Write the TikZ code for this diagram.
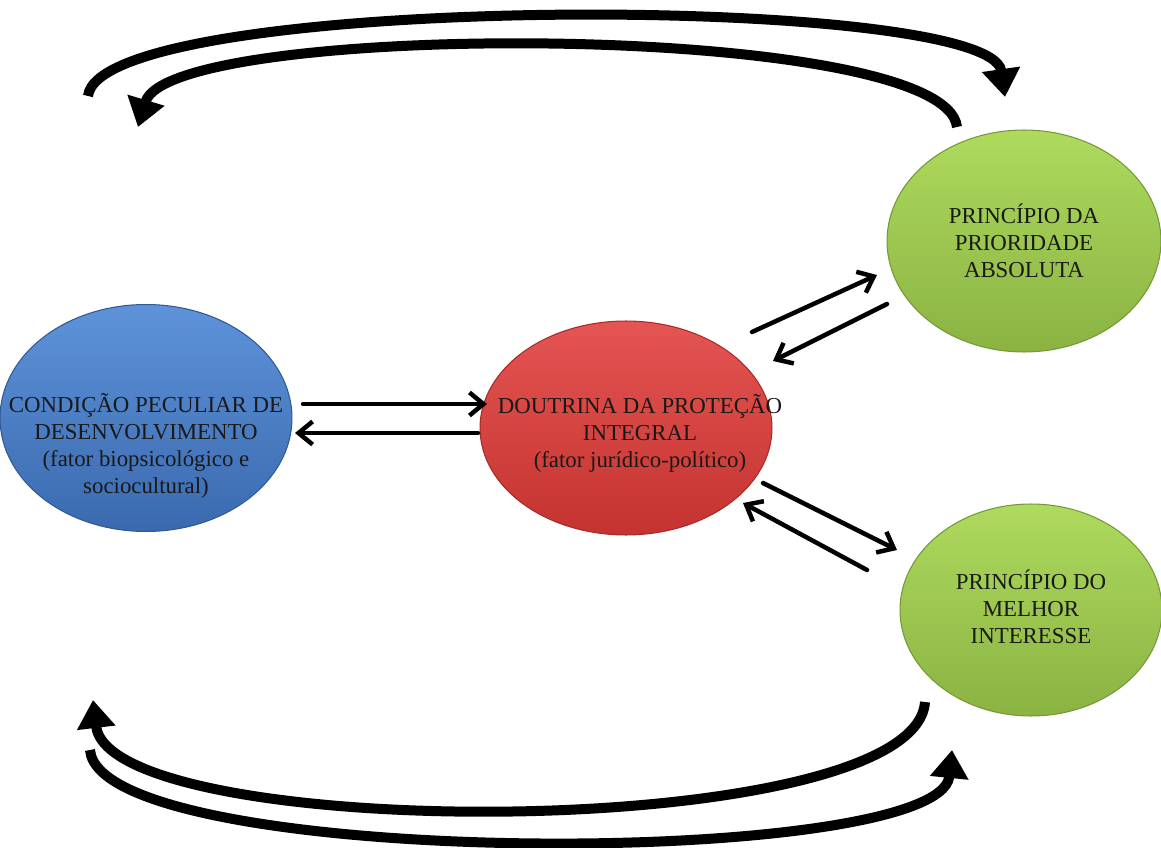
\documentclass[tikz,border=0pt]{standalone}
\usepackage{fontspec}
\setmainfont{Liberation Serif}
\usetikzlibrary{positioning,shapes.geometric,arrows.meta}

\definecolor{blueTop}{HTML}{5E93DA}
\definecolor{blueBot}{HTML}{3A69AE}
\definecolor{redTop}{HTML}{E45553}
\definecolor{redBot}{HTML}{C4332F}
\definecolor{greenTop}{HTML}{AEDA5E}
\definecolor{greenBot}{HTML}{8AB342}

\begin{document}
\begin{tikzpicture}[x=0.02cm, y=-0.02cm,
    bubble/.style 2 args={ellipse, draw=#2!85!black, line width=0.6pt, top color=#1, bottom color=#2, inner sep=0pt},
    words/.style={align=center, text=black!90, font=\fontsize{13}{15.4}\selectfont},
    link/.style={line width=0.09cm, line cap=round, -{Straight Barb[length=0.28cm,width=0.46cm]}},
    bigarrow/.style={line width=0.2cm, -{Triangle[length=0.56cm,width=0.74cm]}}]
    \useasboundingbox (0,0) rectangle (1161,848);

    % ellipses
    \node [bubble={blueTop}{blueBot}, minimum width=5.84cm, minimum height=4.54cm,
           label={[words, yshift=-0.56cm]center:CONDIÇÃO PECULIAR DE\\DESENVOLVIMENTO\\(fator biopsicológico e\\sociocultural)}] (cond) at (146,418) {};
    \node [bubble={redTop}{redBot}, minimum width=5.84cm, minimum height=4.28cm,
           label={[words, xshift=0.28cm, yshift=-0.1cm]center:DOUTRINA DA PROTEÇÃO\\INTEGRAL\\(fator jurídico-político)}] (doutrina) at (626,428) {};
    \node [bubble={greenTop}{greenBot}, minimum width=5.48cm, minimum height=4.44cm,
           label={[words]center:PRINCÍPIO DA\\PRIORIDADE\\ABSOLUTA}] (prioridade) at (1024,241) {};
    \node [bubble={greenTop}{greenBot}, minimum width=5.24cm, minimum height=4.24cm,
           label={[words, yshift=0.06cm]center:PRINCÍPIO DO\\MELHOR\\INTERESSE}] (interesse) at (1031,610) {};

    % ends of the big curved arrows
    \coordinate (topA) at (88,96);
    \coordinate (topB) at (1005,97);
    \coordinate (topC) at (957,127);
    \coordinate (topD) at (138,127);
    \coordinate (botA) at (925,702);
    \coordinate (botB) at (93,700);
    \coordinate (botC) at (90,750);
    \coordinate (botD) at (952,750);

    \draw [bigarrow] (topA) .. controls (100,-8) and (990,-8) .. (topB);
    \draw [bigarrow] (topC) .. controls (945,20) and (170,20) .. (topD);
    \draw [bigarrow] (botA) .. controls (915,844) and (110,844) .. (botB);
    \draw [bigarrow] (botC) .. controls (100,870) and (940,870) .. (botD);

    % straight arrows
    \draw [link] ([shift={(157,-14)}]cond.center) -- ([shift={(-139,-24)}]doutrina.center);
    \draw [link] ([shift={(-148,5)}]doutrina.center) -- ([shift={(149,15)}]cond.center);
    \draw [link] ([shift={(126,-96)}]doutrina.center) -- ([shift={(-147,34)}]prioridade.center);
    \draw [link] ([shift={(-137,63)}]prioridade.center) -- ([shift={(147,-67)}]doutrina.center);
    \draw [link] ([shift={(137,55)}]doutrina.center) -- ([shift={(-134,-60)}]interesse.center);
    \draw [link] ([shift={(-164,-40)}]interesse.center) -- ([shift={(117,75)}]doutrina.center);
\end{tikzpicture}
\end{document}
